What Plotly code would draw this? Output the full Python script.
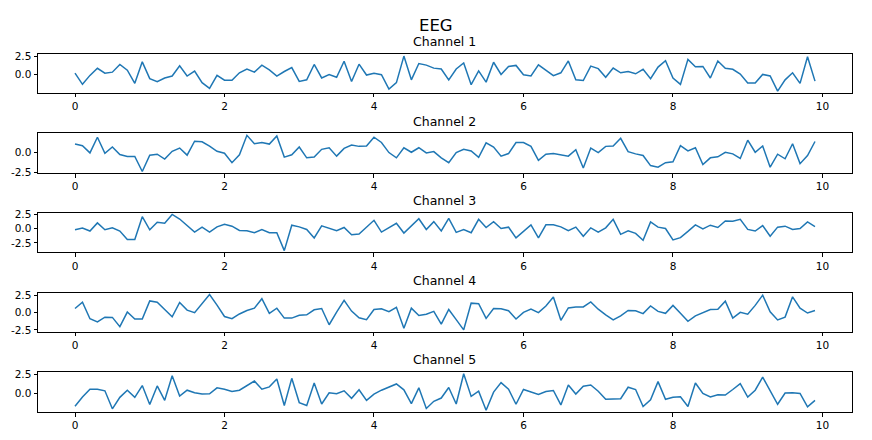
import numpy as np
import plotly.graph_objects as go

t = [round(0.1 * i, 1) for i in range(100)]

ch1 = [0.22, -1.34, -0.09, 0.9, 0.22, 0.36, 1.43, 0.63, -1.2, 1.8,
       -0.54, -0.98, -0.45, -0.18, 1.25, -0.18, 0.5, -1.1, -1.9, -0.09,
       -0.76, -0.76, 0.27, 0.8, 0.36, 1.34, 0.67, -0.18, 0.45, 1.0,
       -0.94, -0.71, 1.43, -0.45, 0.04, -0.36, 1.88, -0.94, 1.47, -0.04,
       0.22, 0.0, -2.0, -1.1, 2.6, -0.71, 1.56, 1.34, 0.92, 0.8,
       -0.71, 0.8, 1.65, -1.38, 0.54, -1.03, 1.74, 0.04, 1.16, 1.3,
       0.0, -0.18, 1.38, 0.58, -0.13, 0.27, 1.92, -0.71, -0.8, 1.2,
       0.85, -0.36, 0.94, 0.27, 0.45, 0.13, 0.76, -0.54, 1.07, 1.96,
       -0.45, -1.34, 2.14, 1.12, 1.16, -0.45, 1.92, 0.9, 0.76, 0.09,
       -1.16, -1.16, 0.04, -0.18, -2.28, -0.71, 0.27, -1.2, 2.5, -0.89]

ch2 = [1.05, 0.85, -0.04, 1.9, -0.08, 0.69, -0.24, -0.48, -0.48, -2.34,
       -0.32, -0.2, -0.81, 0.16, 0.56, -0.32, 1.41, 1.33, 0.81, 0.16,
       -0.08, -1.25, -0.28, 2.14, 1.09, 1.25, 1.05, 2.06, -0.56, -0.28,
       0.69, -0.65, -0.56, 0.4, 0.6, -0.44, 0.52, 0.93, 0.77, 0.81,
       1.9, 1.25, 0.0, -0.65, 0.6, 0.04, 0.6, -0.04, 0.12, -0.65,
       -1.25, 0.0, 0.4, 0.2, -0.6, 1.21, 0.69, -0.44, -0.12, 1.25,
       1.25, 0.77, -0.97, -0.2, -0.12, -0.24, -0.44, 0.36, -1.9, 0.56,
       0.0, 0.77, 0.81, 1.77, 0.12, -0.16, -0.36, -1.61, -1.81, -1.25,
       -1.13, 0.85, 0.2, 0.6, -1.49, -0.65, -0.52, 0.04, -0.16, -0.73,
       1.53, 0.04, 0.81, -1.81, -0.2, -0.77, 1.09, -1.37, -0.36, 1.37]

ch3 = [-0.23, 0.06, -0.45, 0.97, -0.23, 0.11, -0.45, -1.93, -1.93, 2.05,
       -0.23, 1.08, 0.91, 2.44, 1.65, 0.51, -0.63, 0.23, -0.63, 0.28,
       0.74, 0.4, -0.34, -0.4, -0.74, -0.17, -0.74, -0.74, -3.86, 0.57,
       0.28, -0.17, -1.65, 0.45, 0.06, -0.4, 0.17, -1.08, -0.97, 0.23,
       1.42, -0.63, 0.17, 0.91, -0.8, 0.45, 1.7, -0.17, 1.19, -0.42,
       1.76, -0.68, -0.17, -0.74, 1.59, 0.17, 1.19, 0.0, 0.23, -1.65,
       -0.51, 0.63, -1.65, 0.63, 0.63, 0.28, -0.4, 0.23, -1.36, 0.11,
       -0.63, 0.11, 1.59, -1.02, -0.4, -0.85, -2.05, 1.14, 0.23, 0.0,
       -1.99, -1.59, -0.51, 0.63, -0.06, 0.57, 0.17, 1.31, 1.25, 1.59,
       -0.17, -0.45, 0.51, -1.36, 0.23, 0.4, -0.17, 0.0, 1.14, 0.34]

ch4 = [0.6, 1.53, -0.88, -1.34, -0.65, -0.69, -2.04, 0.09, -0.93, -0.93,
       1.71, 1.53, 0.46, -0.6, 1.48, 0.37, 0.0, 1.34, 2.64, 1.11,
       -0.56, -0.88, -0.19, 0.32, 0.65, 2.04, -0.09, 0.65, -0.79, -0.79,
       -0.37, -0.32, 0.42, 0.6, -1.76, 0.09, 1.81, 0.23, -0.74, -1.02,
       0.46, 0.56, 0.14, 0.79, -2.27, 0.65, -0.42, -0.23, 0.19, -1.67,
       0.46, -1.02, -2.5, 1.39, 1.3, -0.83, 0.6, 0.56, 0.28, -0.93,
       0.05, 0.51, 0.0, 0.97, 2.27, -1.11, 0.69, 0.83, 0.83, 1.57,
       0.51, -0.32, -1.06, -0.46, 0.32, 0.28, -0.14, 0.97, 0.19, -0.09,
       1.06, -0.09, -1.25, -0.46, 0.0, 0.46, 0.51, 1.67, -0.79, 0.05,
       -0.23, 1.06, 2.55, 0.14, -1.06, -0.65, 2.31, 0.65, -0.05, 0.32]

ch5 = [-1.64, -0.43, 0.6, 0.6, 0.39, -1.98, -0.47, 0.47, -0.47, 1.08,
       -1.42, 1.03, -0.86, 2.37, -0.3, 0.47, 0.13, -0.04, 0.0, 0.78,
       0.6, 0.3, 0.47, 1.12, 1.68, 0.6, 0.91, 1.94, -1.55, 2.03,
       -1.16, -1.55, 1.42, -1.34, 0.13, 0.0, 0.39, -0.6, 0.52, -0.86,
       -0.04, 0.47, 0.86, 1.29, 0.52, -1.29, 0.78, -1.94, -0.99, -0.56,
       0.82, -1.34, 2.63, -0.34, 0.34, -2.16, 0.22, 1.47, 0.6, -1.38,
       0.56, 0.26, -0.09, 0.3, 0.43, -1.47, 1.16, -0.04, 0.99, 1.16,
       0.34, -0.73, -0.69, -0.65, 0.86, 0.56, -1.68, -0.78, 1.6, -0.73,
       -0.47, -0.39, -1.68, 1.42, 0.04, -0.43, -0.13, -0.17, 0.56, 1.34,
       -0.43, 0.47, 2.2, 0.34, -1.38, 0.09, 0.13, 0.04, -1.72, -0.86]

channels = [ch1, ch2, ch3, ch4, ch5]
titles = ["Channel 1", "Channel 2", "Channel 3", "Channel 4", "Channel 5"]
yticks = [[0, 2.5], [-2.5, 0], [-2.5, 0, 2.5], [-2.5, 0, 2.5], [0, 2.5]]

# pixel boxes of the axes (top, bottom) as seen on the page; the page body has an 8px margin
OFF = 8
boxes = [(50.3, 89.7), (131.3, 172), (212.3, 253), (294.3, 334), (375.3, 416.3)]
W, H = 872.0, 440.0
xdom = [(38 - OFF) / W, (852 - OFF) / W]

fig = go.Figure()
axis_style = dict(showline=True, mirror=True, linecolor="black", linewidth=1,
                  ticks="outside", ticklen=3.5, tickcolor="black", showgrid=False,
                  zeroline=False, tickfont=dict(size=10.5, color="black"))

for k, ys in enumerate(channels):
    n = "" if k == 0 else str(k + 1)
    fig.add_trace(go.Scatter(x=t, y=ys, mode="lines", xaxis="x" + n, yaxis="y" + n,
                             line=dict(color="#1f77b4", width=1.5), showlegend=False))
    lo, hi = min(ys), max(ys)
    pad = (hi - lo) * 0.05
    top, bot = boxes[k]
    ydom = [1 - (bot - OFF) / H, 1 - (top - OFF) / H]
    fig.layout["xaxis" + n] = dict(domain=xdom, range=[-0.495, 10.395], anchor="y" + n,
                                   tickvals=[0, 2, 4, 6, 8, 10], **axis_style)
    fig.layout["yaxis" + n] = dict(domain=ydom, range=[lo - pad, hi + pad], anchor="x" + n,
                                   tickvals=yticks[k], ticktext=[f"{v:.1f}" for v in yticks[k]],
                                   **axis_style)
    fig.add_annotation(text=titles[k], x=0.5 * (xdom[0] + xdom[1]), y=1 - (top - OFF - 3) / H,
                       xref="paper", yref="paper", showarrow=False, yanchor="bottom",
                       font=dict(size=12.5, color="black"))

fig.add_annotation(text="EEG", x=(436 - OFF) / W, y=1 - 1 / H, xref="paper", yref="paper",
                   showarrow=False, yanchor="top", font=dict(size=16.5, color="black"))

fig.update_layout(width=872, height=440, margin=dict(l=0, r=0, t=0, b=0),
                  paper_bgcolor="white", plot_bgcolor="white",
                  font=dict(family="DejaVu Sans"))

fig.write_html("out.html")
